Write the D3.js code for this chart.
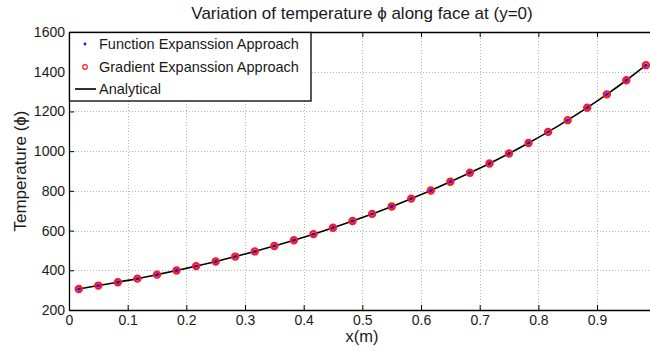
<!DOCTYPE html>
<html>
<head>
<meta charset="utf-8">
<script src="https://cdn.jsdelivr.net/npm/d3@7"></script>
<style>
  html, body { margin: 0; padding: 0; background: #fff; overflow: hidden; }
  svg { display: block; font-family: "Liberation Sans", Arial, Helvetica, sans-serif; }
</style>
</head>
<body>
<svg id="chart" width="650" height="351"></svg>
<script>
// Sample locations along the face (cell centres) and temperatures
const xPositions = [0.0167, 0.05, 0.0833, 0.1167, 0.15, 0.1833, 0.2167, 0.25, 0.2833, 0.3167,
  0.35, 0.3833, 0.4167, 0.45, 0.4833, 0.5167, 0.55, 0.5833, 0.6167, 0.65,
  0.6833, 0.7167, 0.75, 0.7833, 0.8167, 0.85, 0.8833, 0.9167, 0.95, 0.9833];
const functionExpansion = [306, 323, 340, 358, 378, 399, 421, 444, 469, 495,
  522, 551, 582, 614, 648, 684, 721, 761, 802, 846,
  891, 938, 988, 1041, 1097, 1156, 1219, 1286, 1357, 1433];
const gradientExpansion = [306, 323, 340, 358, 378, 399, 421, 444, 469, 495,
  522, 551, 582, 614, 648, 684, 721, 761, 802, 846,
  891, 938, 988, 1041, 1097, 1156, 1219, 1286, 1357, 1433];
const analytical = [306, 323, 340, 358, 378, 399, 421, 444, 469, 495,
  522, 551, 582, 614, 648, 684, 721, 761, 802, 846,
  891, 938, 988, 1041, 1097, 1156, 1219, 1286, 1357, 1433];
const xTicks = [0, 0.1, 0.2, 0.3, 0.4, 0.5, 0.6, 0.7, 0.8, 0.9];
const yTicks = [200, 400, 600, 800, 1000, 1200, 1400, 1600];
const legendLabels = ["Function Expanssion Approach", "Gradient Expanssion Approach", "Analytical"];

const svg = d3.select("#chart");
const plotLeft = 69, plotTop = 32, plotBottom = 310;
const x = d3.scaleLinear().domain([0, 1]).range([plotLeft, 655.7]);
const y = d3.scaleLinear().domain([200, 1600]).range([plotBottom, plotTop]);
const plotRight = x(1);

// dotted grid
const grid = svg.append("g").attr("stroke", "#b4b4b4").attr("stroke-width", 1)
  .attr("stroke-dasharray", "1,2");
grid.selectAll("line.gx").data(xTicks.slice(1)).join("line").attr("class", "gx")
  .attr("x1", d => Math.round(x(d)) + 0.5).attr("x2", d => Math.round(x(d)) + 0.5)
  .attr("y1", plotTop).attr("y2", plotBottom);
grid.selectAll("line.gy").data(yTicks.slice(1, -1)).join("line").attr("class", "gy")
  .attr("y1", d => Math.round(y(d)) + 0.5).attr("y2", d => Math.round(y(d)) + 0.5)
  .attr("x1", plotLeft).attr("x2", plotRight);

// axes with inward ticks (box style)
const fmtX = d => d === 0 ? "0" : d3.format(".1f")(d);
const bottomAxis = svg.append("g").attr("transform", `translate(0,${plotBottom})`)
  .call(d3.axisBottom(x).tickValues(xTicks).tickSizeInner(-5).tickSizeOuter(0).tickPadding(5).tickFormat(fmtX));
const topAxis = svg.append("g").attr("transform", `translate(0,${plotTop})`)
  .call(d3.axisTop(x).tickValues(xTicks).tickSizeInner(-5).tickSizeOuter(0).tickFormat(""));
const leftAxis = svg.append("g").attr("transform", `translate(${plotLeft},0)`)
  .call(d3.axisLeft(y).tickValues(yTicks).tickSizeInner(-5).tickSizeOuter(0).tickPadding(4).tickFormat(d3.format("d")));
[bottomAxis, topAxis, leftAxis].forEach(g => {
  g.select(".domain").attr("stroke", "#000").attr("stroke-width", 1.3);
  g.selectAll(".tick line").attr("stroke", "#000").attr("stroke-width", 1);
  g.selectAll(".tick text").attr("fill", "#1a1a1a").attr("font-size", 14)
    .attr("font-family", "Liberation Sans, Arial, sans-serif");
});

// analytical curve
const line = d3.line().x((d, i) => x(xPositions[i])).y(d => y(d)).curve(d3.curveMonotoneX);
svg.append("path").datum(analytical).attr("d", line)
  .attr("fill", "none").attr("stroke", "#000").attr("stroke-width", 1.6);

// gradient expansion: red open circles
svg.append("g").selectAll("circle").data(gradientExpansion).join("circle")
  .attr("cx", (d, i) => x(xPositions[i])).attr("cy", d => y(d)).attr("r", 3)
  .attr("fill", "none").attr("stroke", "#ff1a1a").attr("stroke-width", 2.4);

// function expansion: blue points
svg.append("g").selectAll("circle").data(functionExpansion).join("circle")
  .attr("cx", (d, i) => x(xPositions[i])).attr("cy", d => y(d)).attr("r", 1.7)
  .attr("fill", "#1010ff");

// title and axis labels
svg.append("text").attr("x", 362).attr("y", 19).attr("text-anchor", "middle")
  .attr("font-size", 17).attr("fill", "#1a1a1a").text("Variation of temperature ϕ along face at (y=0)");
svg.append("text").attr("x", 362).attr("y", 342).attr("text-anchor", "middle")
  .attr("font-size", 16.5).attr("fill", "#1a1a1a").text("x(m)");
svg.append("text").attr("transform", `translate(26,${(plotTop + plotBottom) / 2}) rotate(-90)`)
  .attr("text-anchor", "middle").attr("font-size", 17).attr("fill", "#1a1a1a").text("Temperature (ϕ)");

// legend
const lg = svg.append("g");
lg.append("rect").attr("x", 69.5).attr("y", 32.5).attr("width", 241.5).attr("height", 68.5)
  .attr("fill", "#fff").attr("stroke", "#000").attr("stroke-width", 1.3);
const rowY = [44, 67, 89];
lg.append("circle").attr("cx", 85).attr("cy", rowY[0]).attr("r", 1.4).attr("fill", "#1010ff");
lg.append("circle").attr("cx", 85).attr("cy", rowY[1]).attr("r", 2.3)
  .attr("fill", "none").attr("stroke", "#ff1a1a").attr("stroke-width", 1.2);
lg.append("line").attr("x1", 75).attr("x2", 96).attr("y1", rowY[2]).attr("y2", rowY[2])
  .attr("stroke", "#000").attr("stroke-width", 1.6);
lg.selectAll("text").data(legendLabels).join("text")
  .attr("x", 99).attr("y", (d, i) => rowY[i]).attr("dy", "0.35em")
  .attr("font-size", 14.5).attr("fill", "#1a1a1a").text(d => d);
</script>
</body>
</html>
